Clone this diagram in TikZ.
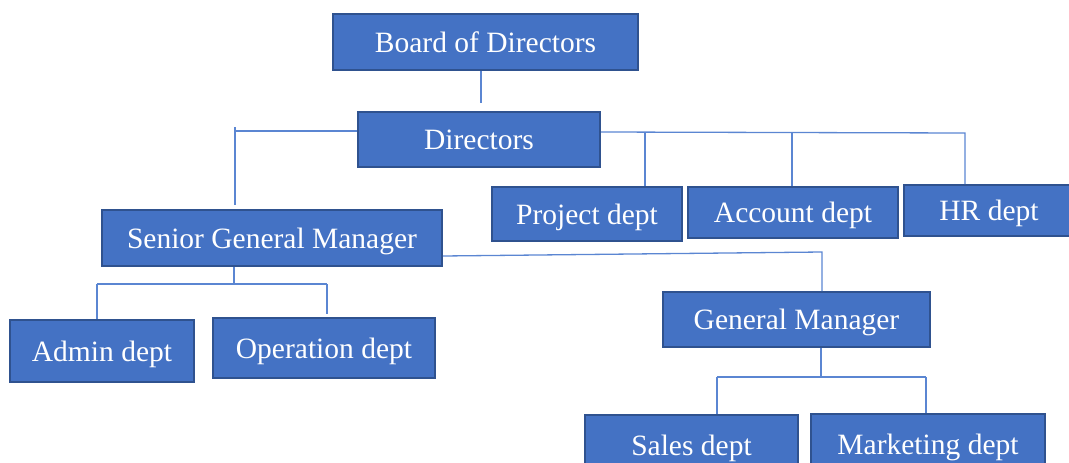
\documentclass[tikz,border=0pt]{standalone}
\usepackage{fontspec}
\setmainfont{Liberation Serif}
\usepackage{tikz}

\definecolor{boxblue}{HTML}{4472C4}
\definecolor{boxedge}{HTML}{2F528F}
\definecolor{linkblue}{HTML}{5B86D2}

\tikzset{
  orgbox/.style={draw=boxedge, line width=2pt, fill=boxblue, text=white,
    inner sep=0pt, text height=20pt, text depth=0pt,
    font=\fontsize{29.5}{32}\selectfont},
  link/.style={draw=linkblue, line width=1.3pt}
}

\begin{document}
\begin{tikzpicture}[x=1pt,y=-1pt]
    \useasboundingbox (0,0) rectangle (1069,463);
    \clip (0,0) rectangle (1069,463);

    % top of the chart
    \node[orgbox, minimum width=305pt, minimum height=56pt] (board) at (485.5,42) {Board of Directors};
    \node[orgbox, minimum width=242pt, minimum height=55pt] (dirs) at (479,139.5) {Directors};

    % departments under the directors
    \node[orgbox, minimum width=190pt, minimum height=54pt] (proj) at (587,214) {Project dept};
    \node[orgbox, minimum width=210pt, minimum height=51pt] (acct) at (793,212.5) {Account dept};
    \node[orgbox, minimum width=170pt, minimum height=51pt] (hr) at (989,210.5) {HR dept};

    % managers
    \node[orgbox, minimum width=340pt, minimum height=56pt] (sgm) at (272,238) {Senior General Manager};
    \node[orgbox, minimum width=267pt, minimum height=55pt] (gm) at (796.5,319.5) {General Manager};

    % departments under the managers
    \node[orgbox, minimum width=184pt, minimum height=62pt] (admin) at (102,351) {Admin dept};
    \node[orgbox, minimum width=222pt, minimum height=60pt] (oper) at (324,348) {Operation dept};
    \node[orgbox, minimum width=213pt, minimum height=60pt] (sales) at (691.5,445) {Sales dept};
    \node[orgbox, minimum width=234pt, minimum height=60pt] (mkt) at (928,444) {Marketing dept};

    % junction points
    \coordinate (b-end) at (481,103);
    \coordinate (d-left) at (235,131);
    \coordinate (d-down) at (235,205);
    \coordinate (d-right) at (965,133);
    \coordinate (s-mid) at (234,284);
    \coordinate (s-left) at (97,284);
    \coordinate (s-right) at (327,284);
    \coordinate (g-top) at (822,252);
    \coordinate (g-mid) at (821,377);
    \coordinate (g-left) at (717,377);
    \coordinate (g-right) at (926,377);

    \draw[link] (board.south -| b-end) -- (b-end);

    \draw[link] (dirs.west |- d-left) -- (d-left);
    \draw[link] (235,127) -- (d-down);

    \draw[link] (dirs.east |- 0,132) -- (d-right) -- (hr.north -| d-right);
    \draw[link] (645,132) -- (proj.north -| 645,0);
    \draw[link] (792,132) -- (acct.north -| 792,0);

    \draw[link] (sgm.east |- 0,256) -- (g-top) -- (gm.north -| g-top);

    \draw[link] (sgm.south -| s-mid) -- (s-mid);
    \draw[link] (s-left) -- (s-right);
    \draw[link] (s-left) -- (admin.north -| s-left);
    \draw[link] (s-right) -- (327,314);

    \draw[link] (gm.south -| g-mid) -- (g-mid);
    \draw[link] (g-left) -- (g-right);
    \draw[link] (g-left) -- (sales.north -| g-left);
    \draw[link] (g-right) -- (mkt.north -| g-right);
\end{tikzpicture}
\end{document}
